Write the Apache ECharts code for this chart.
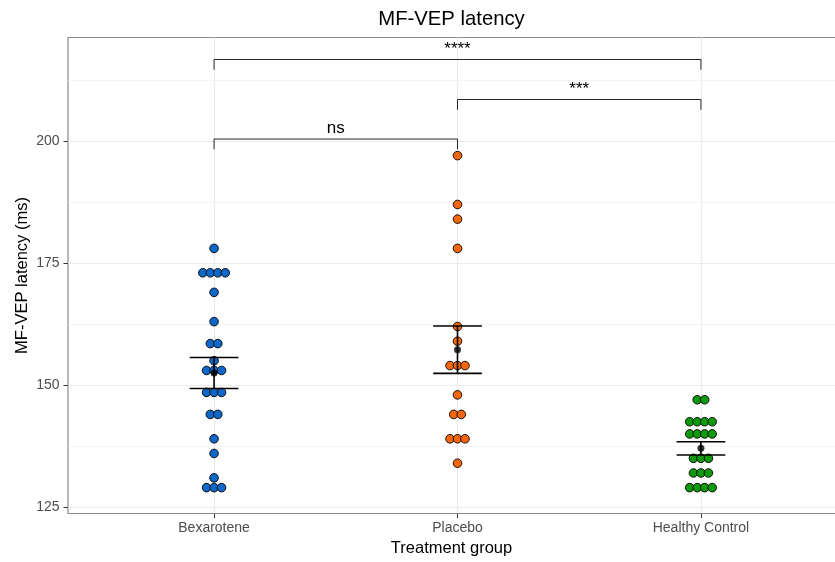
<!DOCTYPE html>
<html>
<head>
<meta charset="utf-8">
<script src="https://cdn.jsdelivr.net/npm/echarts@6/dist/echarts.min.js"></script>
<style>
  html, body { margin: 0; padding: 0; background: #ffffff; overflow: hidden; }
  #chart { width: 835px; height: 562px; }
</style>
</head>
<body>
<div id="chart"></div>
<script>
// Treatment groups and their fill colours
const groups = ['Bexarotene', 'Placebo', 'Healthy Control'];
const groupColors = ['#0F68C8', '#F5670A', '#0E990E'];

// MF-VEP latency per subject (ms)
const bexarotene = [178, 173, 173, 173, 173, 169, 163, 158.5, 158.5, 155, 153, 153, 153,
  148.5, 148.5, 148.5, 144, 144, 139, 136, 131, 129, 129, 129];
const placebo = [197, 187, 184, 178, 162, 159, 154, 154, 154, 148, 144, 144, 139, 139, 139, 134];
const healthyControl = [147, 147, 142.5, 142.5, 142.5, 142.5, 140, 140, 140, 140,
  135, 135, 135, 132, 132, 132, 129, 129, 129, 129];

// Axis ticks
const yTicks = [125, 150, 175, 200];
const yMinorTicks = [137.5, 162.5, 187.5, 212.5];
const xTicks = [1, 2, 3];

// Pairwise comparisons: group indices (1-based), bracket height, significance label
const bracketPairs = [[1, 2], [2, 3], [1, 3]];
const bracketLevels = [200.4, 208.5, 216.7];
const bracketLabels = ['ns', '***', '****'];

const samples = [bexarotene, placebo, healthyControl];
const DOT_STEP = 0.0308;   // horizontal spacing of stacked dots, in x units
const TIP = 2.1;           // bracket tip length, in y units

// Stack equal values side by side, centred on the group position
function dotPositions(values, center) {
  const counts = new Map();
  values.forEach(v => counts.set(v, (counts.get(v) || 0) + 1));
  const pts = [];
  counts.forEach((n, v) => {
    for (let k = 0; k < n; k++) pts.push([center + (k - (n - 1) / 2) * DOT_STEP, v]);
  });
  return pts;
}

function meanSe(values) {
  const n = values.length;
  const m = values.reduce((a, b) => a + b, 0) / n;
  const sd = Math.sqrt(values.reduce((a, b) => a + (b - m) * (b - m), 0) / (n - 1));
  return [m, sd / Math.sqrt(n)];
}

const summary = samples.map(meanSe);

const dotSeries = samples.map((vals, i) => ({
  type: 'scatter',
  name: groups[i],
  data: dotPositions(vals, i + 1),
  symbol: 'circle',
  symbolSize: 8.6,
  itemStyle: { color: groupColors[i], borderColor: '#000000', borderWidth: 0.9, opacity: 1 },
  emphasis: { disabled: true },
  z: 2
}));

const errorBarSeries = {
  type: 'custom',
  name: 'se',
  data: summary.map((s, i) => [i + 1, s[0] - s[1], s[0] + s[1]]),
  renderItem(params, api) {
    const x = api.value(0);
    const lo = api.coord([x, api.value(1)]);
    const hi = api.coord([x, api.value(2)]);
    const half = api.size([0.1, 0])[0];
    const st = { stroke: '#000000', lineWidth: 1.6 };
    return {
      type: 'group',
      children: [
        { type: 'line', shape: { x1: lo[0], y1: lo[1], x2: hi[0], y2: hi[1] }, style: st },
        { type: 'line', shape: { x1: lo[0] - half, y1: lo[1], x2: lo[0] + half, y2: lo[1] }, style: st },
        { type: 'line', shape: { x1: hi[0] - half, y1: hi[1], x2: hi[0] + half, y2: hi[1] }, style: st }
      ]
    };
  },
  z: 3
};

const meanSeries = {
  type: 'scatter',
  name: 'mean',
  data: summary.map((s, i) => [i + 1, s[0]]),
  symbolSize: 7,
  itemStyle: { color: '#000000' },
  emphasis: { disabled: true },
  z: 4
};

const bracketSeries = {
  type: 'custom',
  name: 'brackets',
  data: bracketPairs.map((p, i) => [p[0], p[1], bracketLevels[i], i]),
  renderItem(params, api) {
    const x1 = api.value(0), x2 = api.value(1), y = api.value(2);
    const label = bracketLabels[api.value(3)];
    const a = api.coord([x1, y - TIP]);
    const b = api.coord([x1, y]);
    const c = api.coord([x2, y]);
    const d = api.coord([x2, y - TIP]);
    return {
      type: 'group',
      children: [
        { type: 'polyline', shape: { points: [a, b, c, d] },
          style: { stroke: '#262626', lineWidth: 1, fill: null } },
        { type: 'text', x: (b[0] + c[0]) / 2, y: b[1] - 2,
          style: { text: label, fill: '#000000', font: '17px "Liberation Sans", Arial, sans-serif',
                   align: 'center', verticalAlign: 'bottom' } }
      ]
    };
  },
  z: 5
};

const chart = echarts.init(document.getElementById('chart'), null, { renderer: 'canvas' });
chart.setOption({
  animation: false,
  backgroundColor: '#ffffff',
  textStyle: { fontFamily: '"Liberation Sans", Arial, sans-serif' },
  title: {
    text: 'MF-VEP latency',
    left: 446.5, top: 4,
    textAlign: 'center',
    textStyle: { fontSize: 20.3, fontWeight: 'normal', color: '#000000' }
  },
  grid: {
    left: 68, top: 37.5, width: 779, height: 476,
    outerBoundsMode: 'none',
    containLabel: false,
    show: true, borderColor: '#8a8a8a', borderWidth: 1.2, backgroundColor: 'transparent'
  },
  xAxis: {
    type: 'value',
    min: 0.4, max: 3.6,
    name: 'Treatment group',
    nameLocation: 'middle',
    nameGap: 26,
    nameTextStyle: { fontSize: 16.5, color: '#000000', padding: [0, 12, 0, 0] },
    axisLine: { show: false },
    axisTick: { show: true, customValues: xTicks, length: 4.5, lineStyle: { color: '#333333', width: 1 } },
    axisLabel: {
      customValues: xTicks, margin: 7.5, fontSize: 14, color: '#4D4D4D',
      formatter: v => groups[Math.round(v) - 1]
    },
    splitLine: { show: true, lineStyle: { color: '#EBEBEB', width: 1.2 } }
  },
  yAxis: [
    {
      type: 'value',
      min: 123.7, max: 221.2,
      name: 'MF-VEP latency (ms)',
      nameLocation: 'middle',
      nameGap: 37,
      nameMoveOverlap: false,
      nameRotate: 90,
      nameTextStyle: { fontSize: 16.5, color: '#000000' },
      axisLine: { show: false },
      axisTick: { show: true, customValues: yTicks, length: 4.5, lineStyle: { color: '#333333', width: 1 } },
      axisLabel: { customValues: yTicks, margin: 8.5, fontSize: 14, color: '#4D4D4D' },
      splitLine: { show: true, lineStyle: { color: '#EBEBEB', width: 1.2 } },
      z: 1
    },
    {
      type: 'value',
      min: 123.7, max: 221.2,
      position: 'left',
      axisLine: { show: false },
      axisTick: { show: false, customValues: yMinorTicks },
      axisLabel: { show: false, customValues: yMinorTicks },
      splitLine: { show: true, lineStyle: { color: '#F3F3F3', width: 1 } },
      z: 0
    }
  ],
  series: [...dotSeries, errorBarSeries, meanSeries, bracketSeries]
});
</script>
</body>
</html>
